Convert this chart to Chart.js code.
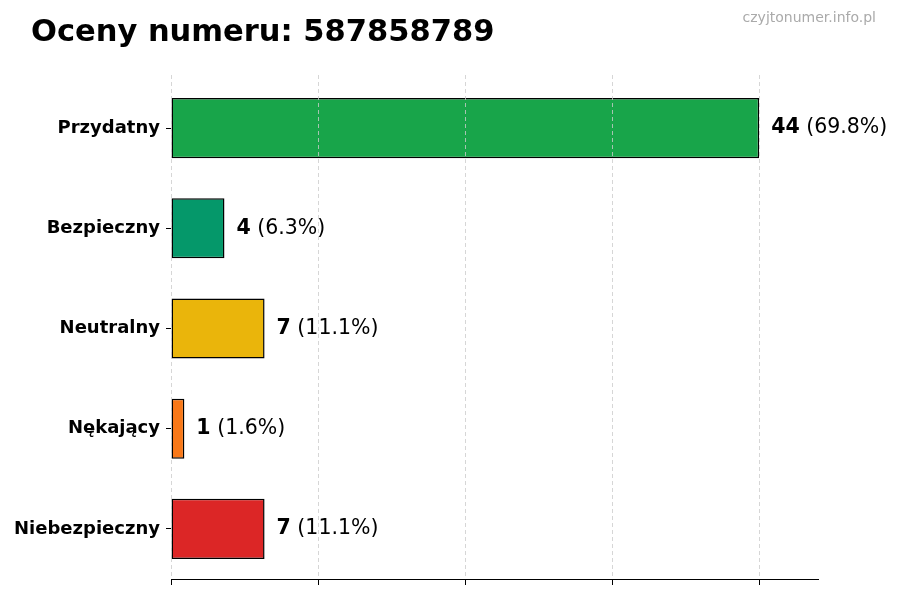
<!DOCTYPE html>
<html>
<head>
<meta charset="utf-8">
<script src="https://cdn.jsdelivr.net/npm/chart.js@4"></script>
<style>
  body { margin: 0; background: #fff; }
  #wrap { position: relative; width: 900px; height: 600px; }
</style>
</head>
<body>
<div id="wrap"><canvas id="myChart" width="900" height="600"></canvas></div>
<script>
const categories = ['Przydatny', 'Bezpieczny', 'Neutralny', 'Nękający', 'Niebezpieczny'];
const counts = [44, 4, 7, 1, 7];
const barColors = ['#18a54a', '#05986a', '#eab50b', '#f97818', '#dc2626'];
const xTicks = [0, 11, 22, 33, 44];
const title = 'Oceny numeru: 587858789';
const watermark = 'czyjtonumer.info.pl';

const total = counts.reduce((a, b) => a + b, 0);
const FONT = "'DejaVu Sans', sans-serif";

// title + watermark
const headerPlugin = {
    id: 'header',
    afterDraw(chart) {
        const c = chart.ctx;
        c.save();
        c.fillStyle = '#000';
        c.font = 'bold 30.5px ' + FONT;
        c.textBaseline = 'alphabetic';
        c.textAlign = 'left';
        c.fillText(title, 31, 41);
        c.fillStyle = '#aaaaaa';
        c.font = '14px ' + FONT;
        c.textAlign = 'right';
        c.fillText(watermark, 876, 22);
        c.restore();
    }
};

// dashed grid over the bars
const gridPlugin = {
    id: 'overGrid',
    afterDatasetsDraw(chart) {
        const c = chart.ctx;
        const x = chart.scales.x;
        const area = chart.chartArea;
        c.save();
        c.strokeStyle = '#cccccc';
        c.lineWidth = 0.8;
        c.setLineDash([4, 3]);
        xTicks.forEach(v => {
            const px = Math.round(x.getPixelForValue(v)) + 0.5;
            c.beginPath();
            c.moveTo(px, area.top - 3);
            c.lineTo(px, area.bottom);
            c.stroke();
        });
        c.restore();
    }
};

// "44 (69.8%)" labels
const valuePlugin = {
    id: 'values',
    afterDatasetsDraw(chart) {
        const c = chart.ctx;
        const meta = chart.getDatasetMeta(0);
        c.save();
        c.textBaseline = 'middle';
        c.textAlign = 'left';
        meta.data.forEach((bar, i) => {
            const num = String(counts[i]);
            const pct = ' (' + (counts[i] / total * 100).toFixed(1) + '%)';
            let px = bar.x + 12;
            c.fillStyle = '#000';
            c.font = 'bold 20.5px ' + FONT;
            c.fillText(num, px, bar.y);
            px += c.measureText(num).width;
            c.font = '20.5px ' + FONT;
            c.fillText(pct, px, bar.y);
        });
        c.restore();
    }
};

const ctx = document.getElementById('myChart').getContext('2d');
const chart = new Chart(ctx, {
    type: 'bar',
    data: {
        labels: categories,
        datasets: [{
            data: counts,
            backgroundColor: barColors,
            borderColor: '#000',
            borderWidth: 1.5,
            borderSkipped: false,
            barPercentage: 0.6,
            categoryPercentage: 1.0
        }]
    },
    options: {
        indexAxis: 'y',
        responsive: false,
        animation: false,
        devicePixelRatio: 1,
        layout: { padding: { top: 78, right: 82, left: 0, bottom: 0 } },
        plugins: {
            legend: { display: false },
            tooltip: { enabled: false }
        },
        scales: {
            x: {
                min: 0,
                max: 48.4,
                afterBuildTicks(scale) {
                    scale.ticks = xTicks.map(v => ({ value: v }));
                },
                afterFit(scale) { scale.height = 21; },
                ticks: { display: false },
                grid: { drawOnChartArea: false, drawTicks: true, tickLength: 6, color: '#000' },
                border: { display: true, color: '#000', width: 1 }
            },
            y: {
                afterFit(scale) { scale.width = 171; },
                ticks: {
                    color: '#000',
                    padding: 6,
                    font: { family: FONT, size: 18, weight: 'bold' }
                },
                grid: { offset: false, drawOnChartArea: false, drawTicks: true, tickLength: 5, color: '#000' },
                border: { display: false }
            }
        }
    },
    plugins: [gridPlugin, valuePlugin, headerPlugin]
});
</script>
</body>
</html>
